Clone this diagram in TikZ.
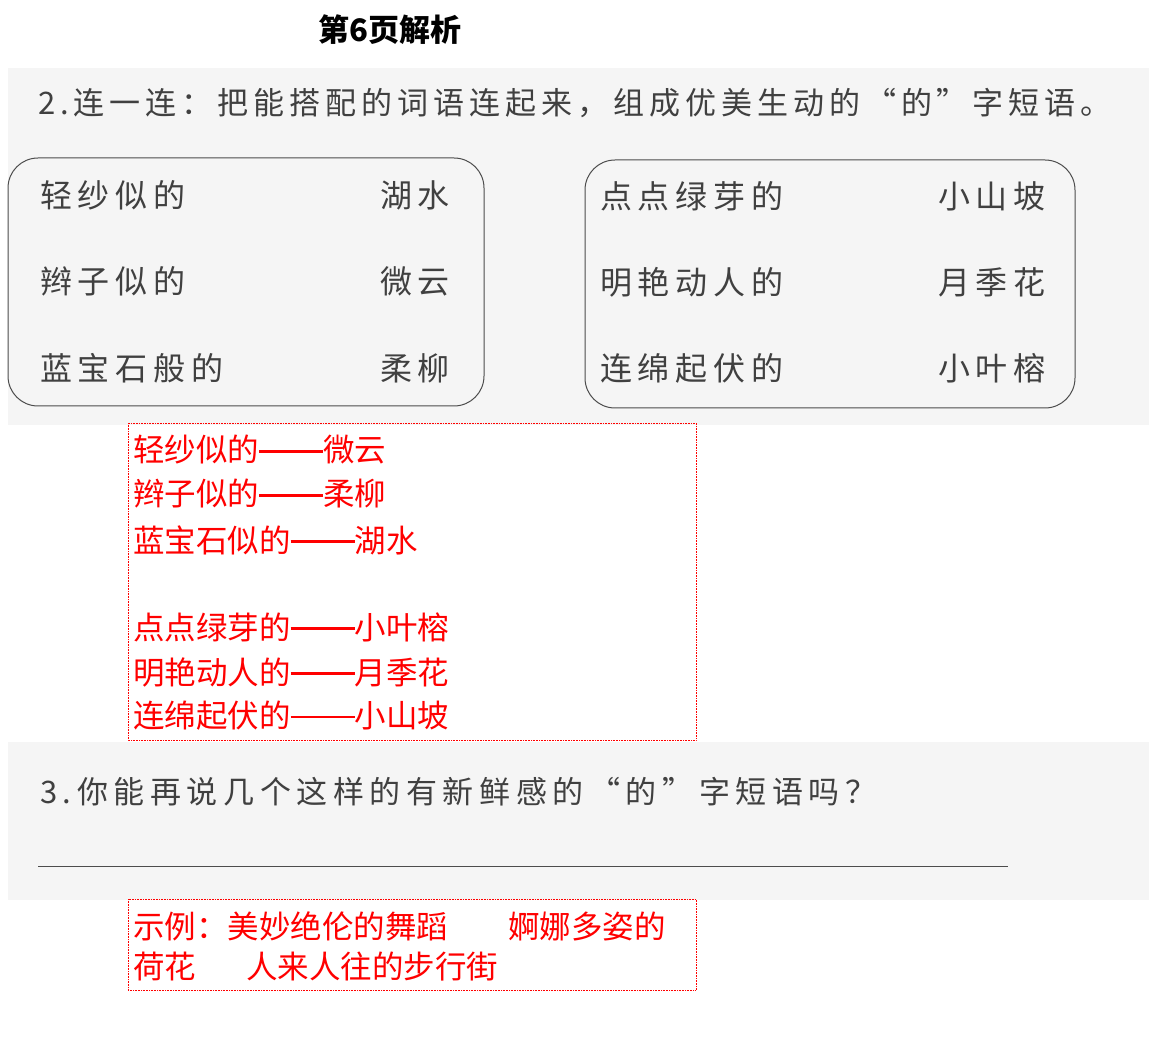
\documentclass[tikz,border=0pt]{standalone}
\usepackage{fontspec}
\newfontfamily\cjk{Noto Sans CJK SC}
\newfontfamily\cjkws[LetterSpace=18]{Noto Sans CJK SC}
\newfontfamily\cjkq[LetterSpace=16]{Noto Sans CJK SC}
\newcommand\dashln{\rule[0.3em]{64pt}{2.2pt}}
\begin{document}
\begin{tikzpicture}[x=1pt,y=-1pt,
  ws/.style={anchor=west,inner sep=0pt,text=black!75,font=\cjkws\fontsize{32}{36}\selectfont},
  qs/.style={anchor=west,inner sep=0pt,text=black!75,font=\cjkq\fontsize{31}{36}\selectfont},
  ans/.style={anchor=west,inner sep=0pt,text=red,font=\cjk\fontsize{31.5}{36}\selectfont},
  rbox/.style={draw=red,densely dotted,line width=0.6pt},
  wbox/.style={draw=black!70,line width=1pt,rounded corners=30pt}]
\useasboundingbox (0,0) rectangle (1149,1040);
\fill[black!4] (8,68) rectangle (1149,425);
\fill[black!4] (8,742) rectangle (1149,900);
\node[inner sep=0pt,font=\cjk\bfseries\fontsize{31}{34}\selectfont] (title) at (390,30) {第6页解析};
\node[qs] (q2) at (38,103) {2.连一连：把能搭配的词语连起来，组成优美生动的“的”字短语。};
\draw[wbox] (8,158) rectangle (484,406);
\draw[wbox] (585,160) rectangle (1075,408);
\node[ws] (a1) at (40,195) {轻纱似的};
\node[ws] (a2) at (40,281) {辫子似的};
\node[ws] (a3) at (40,368) {蓝宝石般的};
\node[ws] (b1) at (380,195) {湖水};
\node[ws] (b2) at (380,281) {微云};
\node[ws] (b3) at (380,368) {柔柳};
\node[ws] (c1) at (600,196) {点点绿芽的};
\node[ws] (c2) at (600,282) {明艳动人的};
\node[ws] (c3) at (600,368) {连绵起伏的};
\node[ws] (d1) at (938,196) {小山坡};
\node[ws] (d2) at (938,282) {月季花};
\node[ws] (d3) at (938,368) {小叶榕};
\draw[rbox] (128,423) rectangle (696,740);
\node[ans] (r1) at (133,450) {轻纱似的\dashln 微云};
\node[ans] (r2) at (133,494) {辫子似的\dashln 柔柳};
\node[ans] (r3) at (133,540) {蓝宝石似的\dashln 湖水};
\node[ans] (r4) at (133,627) {点点绿芽的\dashln 小叶榕};
\node[ans] (r5) at (133,672) {明艳动人的\dashln 月季花};
\node[ans] (r6) at (133,716) {连绵起伏的\dashln 小山坡};
\node[qs,font=\cjkws\fontsize{31}{36}\selectfont] (q3) at (40,792) {3.你能再说几个这样的有新鲜感的“的”字短语吗？};
\coordinate (l1) at (38,866); \coordinate (l2) at (1008,866);
\draw[black!70,line width=0.8pt] (l1) -- (l2);
\draw[rbox] (128,899) rectangle (696,990);
\node[ans] (s1) at (133,926) {示例：美妙绝伦的舞蹈\hspace{60pt}婀娜多姿的};
\node[ans] (s2) at (133,967) {荷花\hspace{50pt}人来人往的步行街};
\end{tikzpicture}
\end{document}
